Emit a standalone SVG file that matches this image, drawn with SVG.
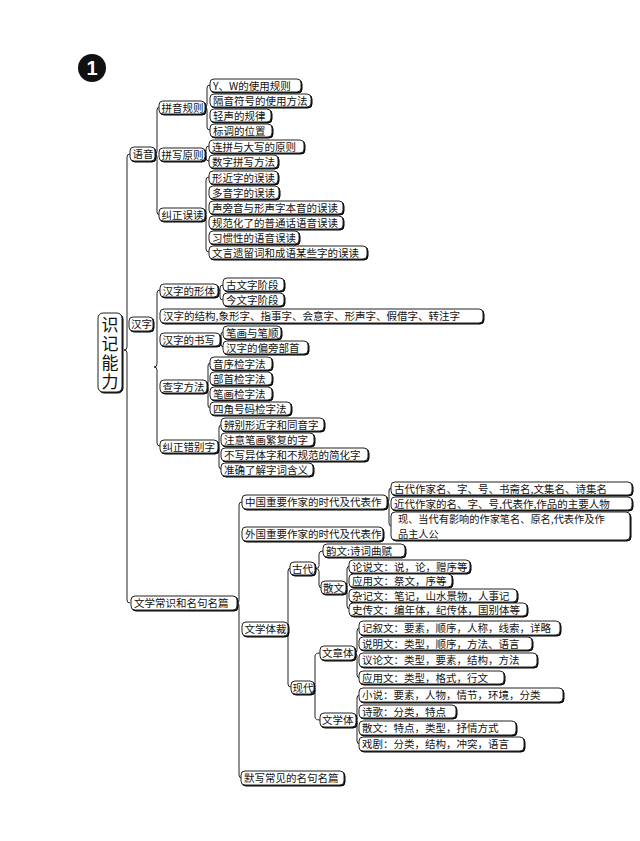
<svg xmlns="http://www.w3.org/2000/svg" width="640" height="841" viewBox="0 0 640 841">
<defs>
<filter id="sh" x="-10%" y="-20%" width="130%" height="160%"><feDropShadow dx="1" dy="1" stdDeviation="0" flood-color="#000"/></filter>
<style>
.b{fill:#fff;stroke:#222;stroke-width:1;filter:url(#sh)}
.t{font-family:"Noto Sans CJK SC","Noto Sans",sans-serif;font-size:10.5px;fill:#111}
.r{font-family:"Noto Sans CJK SC","Noto Sans",sans-serif;font-size:17px;fill:#111;writing-mode:vertical-rl;letter-spacing:2px}
.c{fill:none;stroke:#222;stroke-width:1}
</style>
</defs>
<rect width="640" height="841" fill="#fff"/>
<g id="badge"><circle cx="92" cy="68" r="14" fill="#111"/><text x="92" y="75" font-family="Liberation Sans,Arial,sans-serif" font-weight="bold" font-size="20" fill="#fff" text-anchor="middle">1</text></g>

<g id="connectors">
<path class="c" d="M130,154 Q127,154 127,157 L127,347 Q127,350 124,350 Q127,350 127,353 L127,600 Q127,603 130,603"/>
<path class="c" d="M160,107 Q157,107 157,110 L157,151 Q157,154 155,154 Q157,154 157,157 L157,212 Q157,215 160,215"/>
<path class="c" d="M210,85 Q207,85 207,88 L207,104 Q207,107 205,107 Q207,107 207,110 L207,127 Q207,130 210,130"/>
<path class="c" d="M209,146 Q206,146 206,149 L206,151.5 Q206,154.5 205,154.5 Q206,154.5 206,157.5 L206,158 Q206,161 209,161"/>
<path class="c" d="M209,177 Q206,177 206,180 L206,211.5 Q206,214.5 205,214.5 Q206,214.5 206,217.5 L206,249 Q206,252 209,252"/>
<path class="c" d="M160,290 Q157,290 157,293 L157,364 Q157,367 154,367 Q157,367 157,370 L157,443 Q157,446 160,446"/>
<path class="c" d="M223,285 Q220,285 220,288 L220,297 Q220,300 223,300 M218,290.5 L220,290.5"/>
<path class="c" d="M223,332 Q221,332 221,335 L221,344 Q221,347 223,347 M220,339.5 L221,339.5"/>
<path class="c" d="M210,363 Q208,363 208,366 L208,383.5 Q208,386.5 207,386.5 Q208,386.5 208,389.5 L208,405 Q208,408 210,408"/>
<path class="c" d="M221,425 Q219,425 219,428 L219,443.5 Q219,446.5 218,446.5 Q219,446.5 219,449.5 L219,466 Q219,469 221,469"/>
<path class="c" d="M242,502 Q239,502 239,505 L239,600 Q239,603 237,603 Q239,603 239,606 L239,775 Q239,778 242,778"/>
<path class="c" d="M391,488 Q389,488 389,491 L389,499 Q389,502 387,502 Q389,502 389,505 L389,523 Q389,526 391,526"/>
<path class="c" d="M291,568 Q288,568 288,571 L288,626 Q288,629 288,629 Q288,629 288,632 L288,684 Q288,687 291,687"/>
<path class="c" d="M323,551 Q319,551 319,554 L319,565.5 Q319,568.5 316,568.5 Q319,568.5 319,571.5 L319,585 Q319,588 322,588"/>
<path class="c" d="M350,566 Q347,566 347,569 L347,584.5 Q347,587.5 346,587.5 Q347,587.5 347,590.5 L347,606 Q347,609 350,609"/>
<path class="c" d="M320,653 Q315,653 315,656 L315,684.5 Q315,687.5 314,687.5 Q315,687.5 315,690.5 L315,717 Q315,720 320,720"/>
<path class="c" d="M360,628 Q357,628 357,631 L357,650 Q357,653 355,653 Q357,653 357,656 L357,675 Q357,678 360,678"/>
<path class="c" d="M360,695 Q357,695 357,698 L357,717 Q357,720 356,720 Q357,720 357,723 L357,741 Q357,744 360,744"/>
</g>

<g id="root"><rect class="b" x="98" y="313" width="24" height="79" rx="5"/>
<text class="r" x="110" y="316">识记能力</text></g>

<g id="n-yuyin"><rect class="b" x="130" y="147" width="25" height="14" rx="4"/><text class="t" x="132.5" y="158">语音</text></g>
<g id="n-pyrule"><rect class="b" x="159" y="101" width="46" height="13" rx="4"/><text class="t" x="161.5" y="111.5">拼音规则</text></g>
<g id="n-pxrule"><rect class="b" x="159" y="148" width="46" height="13" rx="4"/><text class="t" x="161.5" y="158.5">拼写原则</text></g>
<g id="n-jzwd"><rect class="b" x="159" y="208" width="46" height="13" rx="4"/><text class="t" x="161.5" y="218.5">纠正误读</text></g>

<g id="n-yw"><rect class="b" x="210" y="79" width="91" height="13" rx="4"/><text class="t" x="213" y="89.5">Y、W的使用规则</text></g>
<g id="n-gy"><rect class="b" x="210" y="94" width="101" height="13" rx="4"/><text class="t" x="213" y="104.5">隔音符号的使用方法</text></g>
<g id="n-qs"><rect class="b" x="210" y="109" width="61" height="13" rx="4"/><text class="t" x="213" y="119.5">轻声的规律</text></g>
<g id="n-bd"><rect class="b" x="210" y="124" width="62" height="13" rx="4"/><text class="t" x="213" y="134.5">标调的位置</text></g>
<g id="n-lp"><rect class="b" x="209" y="140" width="95" height="13" rx="4"/><text class="t" x="212" y="150.5">连拼与大写的原则</text></g>
<g id="n-sz"><rect class="b" x="209" y="155" width="69" height="13" rx="4"/><text class="t" x="212" y="165.5">数字拼写方法</text></g>
<g id="n-xj"><rect class="b" x="209" y="171" width="69" height="13" rx="4"/><text class="t" x="212" y="181.5">形近字的误读</text></g>
<g id="n-dy"><rect class="b" x="209" y="186" width="70" height="13" rx="4"/><text class="t" x="212" y="196.5">多音字的误读</text></g>
<g id="n-sp"><rect class="b" x="209" y="201" width="134" height="13" rx="4"/><text class="t" x="212" y="211.5">声旁音与形声字本音的误读</text></g>
<g id="n-gf"><rect class="b" x="209" y="216" width="134" height="13" rx="4"/><text class="t" x="212" y="226.5">规范化了的普通话语音误读</text></g>
<g id="n-xg"><rect class="b" x="209" y="231" width="90" height="13" rx="4"/><text class="t" x="212" y="241.5">习惯性的语音误读</text></g>
<g id="n-wy"><rect class="b" x="209" y="246" width="158" height="13" rx="4"/><text class="t" x="212" y="256.5">文言遗留词和成语某些字的误读</text></g>

<g id="n-hanzi"><rect class="b" x="129" y="317" width="24" height="14" rx="4"/><text class="t" x="131" y="328">汉字</text></g>
<g id="n-xt"><rect class="b" x="160" y="284" width="58" height="13" rx="4"/><text class="t" x="162.5" y="294.5">汉字的形体</text></g>
<g id="n-gwz"><rect class="b" x="223" y="278" width="61" height="13" rx="4"/><text class="t" x="226" y="288.5">古文字阶段</text></g>
<g id="n-jwz"><rect class="b" x="223" y="293" width="61" height="13" rx="4"/><text class="t" x="226" y="303.5">今文字阶段</text></g>
<g id="n-jg"><rect class="b" x="160" y="309" width="323" height="14" rx="4"/><text class="t" x="163" y="320">汉字的结构,象形字、指事字、会意字、形声字、假借字、转注字</text></g>
<g id="n-sx"><rect class="b" x="160" y="333" width="60" height="13" rx="4"/><text class="t" x="162.5" y="343.5">汉字的书写</text></g>
<g id="n-bh"><rect class="b" x="223" y="326" width="58" height="13" rx="4"/><text class="t" x="226" y="336.5">笔画与笔顺</text></g>
<g id="n-pp"><rect class="b" x="223" y="341" width="85" height="13" rx="4"/><text class="t" x="226" y="351.5">汉字的偏旁部首</text></g>
<g id="n-cz"><rect class="b" x="160" y="380" width="47" height="13" rx="4"/><text class="t" x="162.5" y="390.5">查字方法</text></g>
<g id="n-yx"><rect class="b" x="210" y="357" width="62" height="13" rx="4"/><text class="t" x="213" y="367.5">音序检字法</text></g>
<g id="n-bs"><rect class="b" x="210" y="372" width="62" height="13" rx="4"/><text class="t" x="213" y="382.5">部首检字法</text></g>
<g id="n-bhj"><rect class="b" x="210" y="387" width="62" height="13" rx="4"/><text class="t" x="213" y="397.5">笔画检字法</text></g>
<g id="n-sj"><rect class="b" x="210" y="402" width="81" height="13" rx="4"/><text class="t" x="213" y="412.5">四角号码检字法</text></g>
<g id="n-cbz"><rect class="b" x="160" y="440" width="58" height="13" rx="4"/><text class="t" x="162.5" y="450.5">纠正错别字</text></g>
<g id="n-bb"><rect class="b" x="221" y="418" width="103" height="13" rx="4"/><text class="t" x="224" y="428.5">辨别形近字和同音字</text></g>
<g id="n-zy"><rect class="b" x="221" y="433" width="93" height="13" rx="4"/><text class="t" x="224" y="443.5">注意笔画繁复的字</text></g>
<g id="n-bx"><rect class="b" x="221" y="448" width="147" height="13" rx="4"/><text class="t" x="224" y="458.5">不写异体字和不规范的简化字</text></g>
<g id="n-zq"><rect class="b" x="221" y="463" width="92" height="13" rx="4"/><text class="t" x="224" y="473.5">准确了解字词含义</text></g>

<g id="n-wx"><rect class="b" x="131" y="596" width="106" height="14" rx="4"/><text class="t" x="134" y="607">文学常识和名句名篇</text></g>
<g id="n-zg"><rect class="b" x="242" y="495" width="145" height="14" rx="4"/><text class="t" x="245" y="506">中国重要作家的时代及代表作</text></g>
<g id="n-wg"><rect class="b" x="242" y="527" width="141" height="14" rx="4"/><text class="t" x="245" y="538">外国重要作家的时代及代表作</text></g>
<g id="n-gd1"><rect class="b" x="391" y="482" width="241" height="13" rx="4"/><text class="t" x="394" y="492.5">古代作家名、字、号、书斋名,文集名、诗集名</text></g>
<g id="n-jd1"><rect class="b" x="391" y="497" width="241" height="13" rx="4"/><text class="t" x="394" y="507.5">近代作家的名、字、号,代表作,作品的主要人物</text></g>
<g id="n-xd1"><rect class="b" x="391" y="512" width="239" height="28" rx="4"/><text class="t" style="font-size:10.2px"><tspan x="398" y="523">现、当代有影响的作家笔名、原名,代表作及作</tspan><tspan x="398" y="537.8">品主人公</tspan></text></g>

<g id="n-wxtc"><rect class="b" x="242" y="622" width="46" height="14" rx="4"/><text class="t" x="244.5" y="633">文学体裁</text></g>
<g id="n-gd"><rect class="b" x="290" y="562" width="25" height="13" rx="4"/><text class="t" x="292" y="572.5">古代</text></g>
<g id="n-yw2"><rect class="b" x="323" y="544" width="82" height="13" rx="4"/><text class="t" x="326" y="554.5">韵文:诗词曲赋</text></g>
<g id="n-sw"><rect class="b" x="321" y="581" width="25" height="13" rx="4"/><text class="t" x="323" y="591.5">散文</text></g>
<g id="n-ls"><rect class="b" x="349" y="560" width="121" height="13" rx="4"/><text class="t" x="352" y="570.5">论说文：说，论，赠序等</text></g>
<g id="n-yy"><rect class="b" x="349" y="574" width="103" height="13" rx="4"/><text class="t" x="352" y="584.5">应用文：祭文，序等</text></g>
<g id="n-zj"><rect class="b" x="349" y="589" width="168" height="13" rx="4"/><text class="t" x="352" y="599.5">杂记文：笔记，山水景物，人事记</text></g>
<g id="n-sc"><rect class="b" x="349" y="603" width="178" height="13" rx="4"/><text class="t" x="352" y="613.5">史传文：编年体，纪传体，国别体等</text></g>
<g id="n-xd"><rect class="b" x="291" y="681" width="23" height="13" rx="4"/><text class="t" x="292.5" y="691.5">现代</text></g>
<g id="n-wzt"><rect class="b" x="320" y="646" width="35" height="14" rx="4"/><text class="t" x="322" y="657">文章体</text></g>
<g id="n-jx"><rect class="b" x="359" y="621" width="201" height="14" rx="4"/><text class="t" x="362" y="632">记叙文：要素，顺序，人称，线索，详略</text></g>
<g id="n-sm"><rect class="b" x="359" y="637" width="173" height="13" rx="4"/><text class="t" x="362" y="647.5">说明文：类型，顺序，方法、语言</text></g>
<g id="n-yl"><rect class="b" x="359" y="653" width="178" height="14" rx="4"/><text class="t" x="362" y="664">议论文：类型，要素，结构，方法</text></g>
<g id="n-yyw"><rect class="b" x="359" y="671" width="145" height="13" rx="4"/><text class="t" x="362" y="681.5">应用文：类型，格式，行文</text></g>
<g id="n-wxt"><rect class="b" x="320" y="713" width="36" height="14" rx="4"/><text class="t" x="322" y="724">文学体</text></g>
<g id="n-xs"><rect class="b" x="359" y="688" width="204" height="14" rx="4"/><text class="t" x="362" y="699">小说：要素，人物，情节，环境，分类</text></g>
<g id="n-sg"><rect class="b" x="359" y="705" width="97" height="13" rx="4"/><text class="t" x="362" y="715.5">诗歌：分类，特点</text></g>
<g id="n-swt"><rect class="b" x="359" y="721" width="157" height="14" rx="4"/><text class="t" x="362" y="732">散文：特点，类型，抒情方式</text></g>
<g id="n-xj2"><rect class="b" x="359" y="737" width="165" height="14" rx="4"/><text class="t" x="362" y="748">戏剧：分类，结构，冲突，语言</text></g>
<g id="n-mx"><rect class="b" x="241" y="771" width="103" height="14" rx="4"/><text class="t" x="244" y="782">默写常见的名句名篇</text></g>
</svg>
